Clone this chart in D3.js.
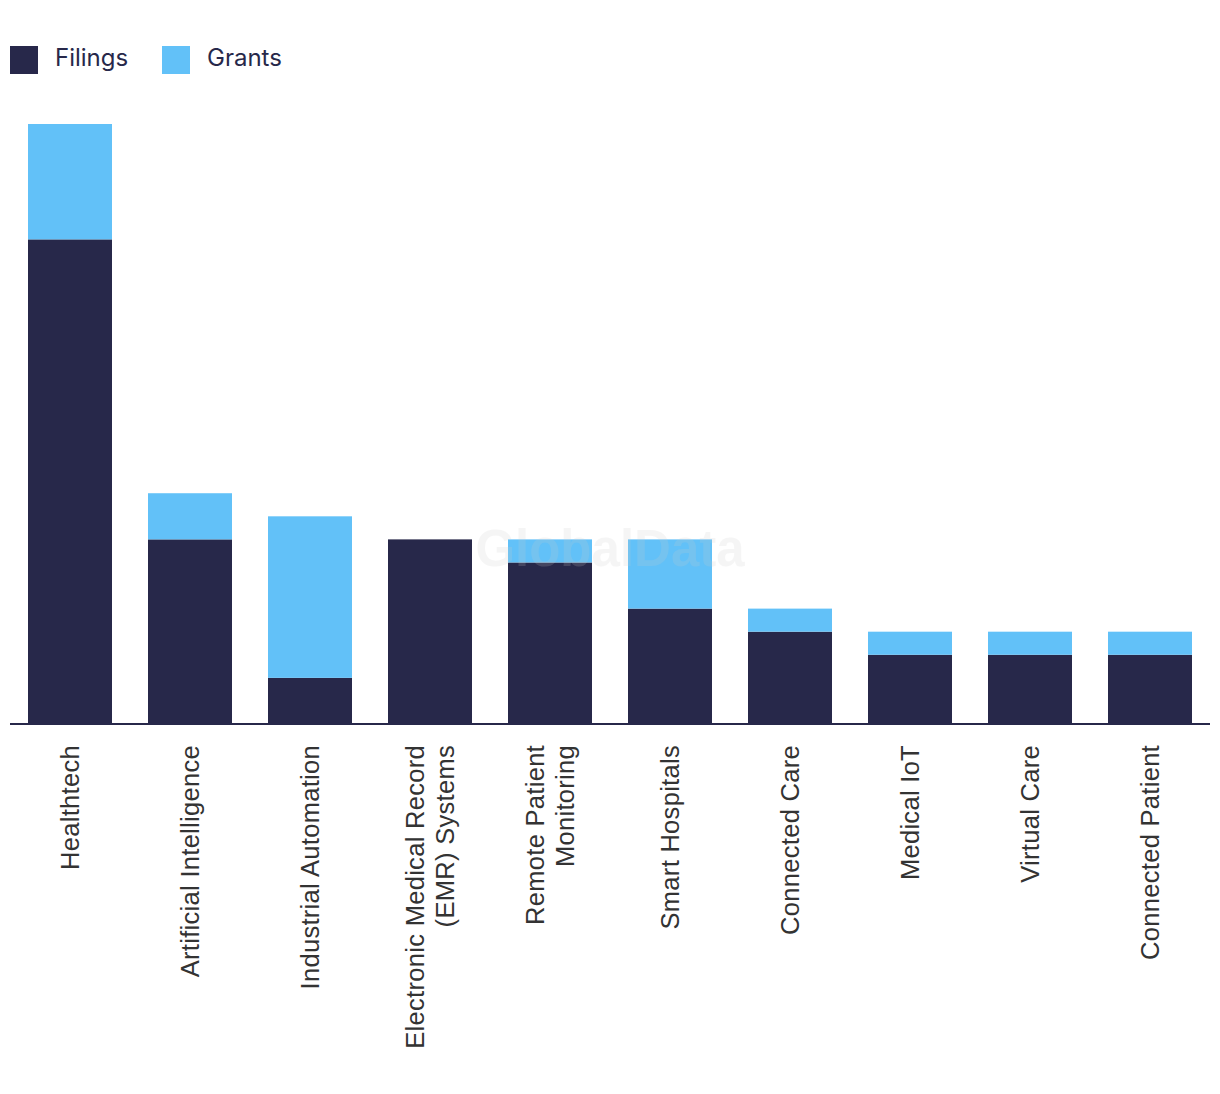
<!DOCTYPE html>
<html>
<head>
<meta charset="utf-8">
<script src="https://cdn.jsdelivr.net/npm/d3@7"></script>
<style>
  html, body { margin: 0; padding: 0; background: #fff; }
  svg { display: block; }
</style>
</head>
<body>
<svg id="chart" width="1220" height="1094"></svg>
<script>
const categories = [
  "Healthtech", "Artificial Intelligence", "Industrial Automation",
  "Electronic Medical Record (EMR) Systems", "Remote Patient Monitoring",
  "Smart Hospitals", "Connected Care", "Medical IoT", "Virtual Care", "Connected Patient"
];
const labelLines = [
  ["Healthtech"], ["Artificial Intelligence"], ["Industrial Automation"],
  ["Electronic Medical Record", "(EMR) Systems"], ["Remote Patient", "Monitoring"],
  ["Smart Hospitals"], ["Connected Care"], ["Medical IoT"], ["Virtual Care"], ["Connected Patient"]
];
const filings = [21, 8, 2, 8, 7, 5, 4, 3, 3, 3];
const grants  = [5, 2, 7, 0, 1, 3, 1, 1, 1, 1];
const seriesNames = ["Filings", "Grants"];
const colors = ["#27284a", "#62c1f8"];

const svg = d3.select("#chart");
const left = 10, right = 1210, baseY = 724, topY = 124;

const rows = categories.map((c, i) => ({ cat: c, Filings: filings[i], Grants: grants[i] }));
const stack = d3.stack().keys(seriesNames)(rows);

const x = d3.scaleBand().domain(categories).range([left, right]).paddingInner(0.3).paddingOuter(0.15);
const y = d3.scaleLinear().domain([0, 26]).range([baseY, topY]);

stack.forEach((s, si) => {
  svg.append("g").attr("fill", colors[si])
    .selectAll("rect").data(s).enter().append("rect")
    .attr("x", d => x(d.data.cat))
    .attr("width", x.bandwidth())
    .attr("y", d => y(d[1]))
    .attr("height", d => y(d[0]) - y(d[1]));
});

// axis
const axis = svg.append("g").attr("transform", `translate(0,${baseY})`)
  .call(d3.axisBottom(x).tickSize(0).tickFormat(""));
axis.select(".domain").attr("stroke", "#27284a").attr("stroke-width", 2).attr("d", `M${left},0H${right}`);

// labels
const lab = svg.append("g");
categories.forEach((c, i) => {
  const cx = x(c) + x.bandwidth() / 2;
  const lines = labelLines[i];
  const lh = 30;
  const n = lines.length;
  lines.forEach((t, j) => {
    const off = (j - (n - 1) / 2) * lh;
    lab.append("text")
      .attr("transform", `translate(${cx + off + 9},${baseY + 21}) rotate(-90)`)
      .attr("text-anchor", "end")
      .attr("font-family", "Liberation Sans, Arial, sans-serif")
      .attr("font-size", 25.5)
      .attr("letter-spacing", 0.3)
      .attr("fill", "#333")
      .text(t);
  });
});

// legend
const leg = svg.append("g");
const legX = [10, 162];
seriesNames.forEach((s, i) => {
  leg.append("rect").attr("x", legX[i]).attr("y", 46).attr("width", 28).attr("height", 28).attr("fill", colors[i]);
  leg.append("text").attr("x", legX[i] + 45).attr("y", 66)
    .attr("font-family", "Inter, Roboto, sans-serif").attr("font-size", 24)
    .attr("fill", "#27284a").text(s);
});

// watermark
svg.append("text").attr("x", 610).attr("y", 566).attr("text-anchor", "middle")
  .attr("font-family", "Liberation Sans, Arial, sans-serif").attr("font-weight", "bold")
  .attr("font-size", 51).attr("fill", "#cccccc").attr("opacity", 0.18).text("GlobalData");
</script>
</body>
</html>
